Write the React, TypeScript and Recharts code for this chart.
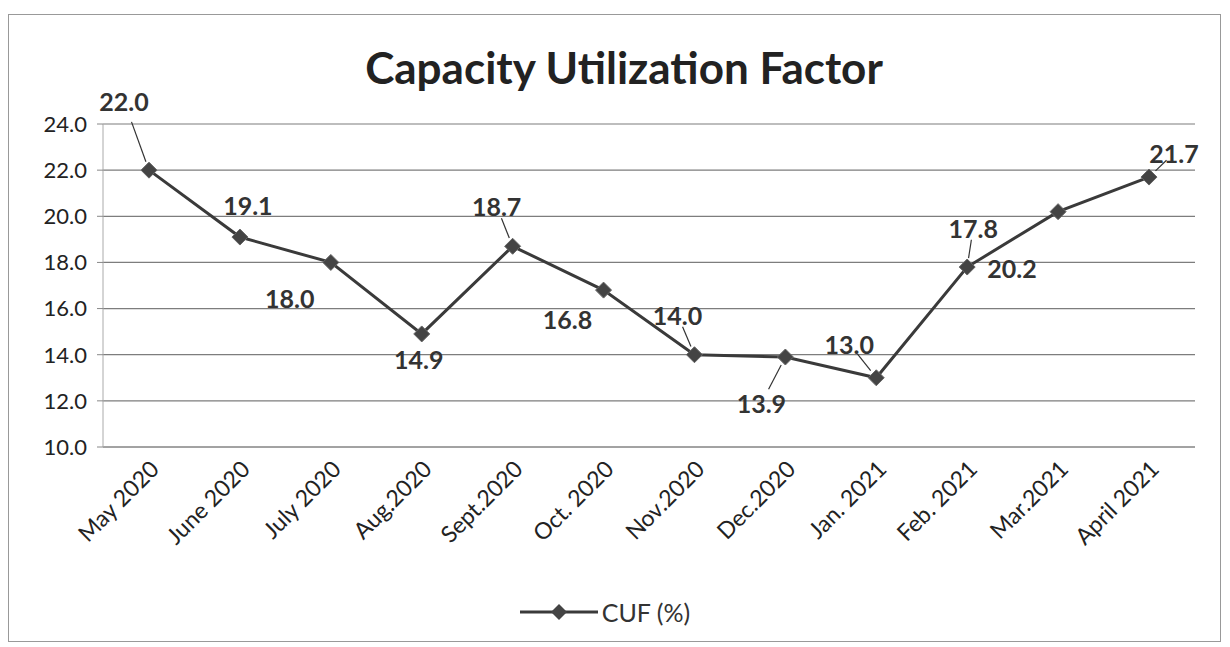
import React from "react";
import { LineChart, Line, XAxis, YAxis, CartesianGrid, Legend } from "recharts";

const months = [
  "May 2020", "June 2020", "July 2020", "Aug.2020", "Sept.2020", "Oct. 2020",
  "Nov.2020", "Dec.2020", "Jan. 2021", "Feb. 2021", "Mar.2021", "April 2021",
];
const cuf = [22.0, 19.1, 18.0, 14.9, 18.7, 16.8, 14.0, 13.9, 13.0, 17.8, 20.2, 21.7];
const yTicks = [10, 12, 14, 16, 18, 20, 22, 24];

// where each data label sits relative to its point (Excel had them dragged around)
const labelPos = [
  { dx: -25, dy: -69, leader: true },
  { dx: 8, dy: -32, leader: false },
  { dx: -41, dy: 36, leader: false },
  { dx: -3, dy: 25, leader: false },
  { dx: -16, dy: -40, leader: true },
  { dx: -36, dy: 29, leader: false },
  { dx: -17, dy: -40, leader: true },
  { dx: -24, dy: 46, leader: true },
  { dx: -27, dy: -34, leader: true },
  { dx: 6, dy: -39, leader: true },
  { dx: -46, dy: 56, leader: false },
  { dx: 25, dy: -24, leader: true },
];

const data = months.map((m, i) => ({ month: m, cuf: cuf[i] }));

const FONT = "Lato, 'Open Sans', sans-serif";
const LINE = "#3a3a3a";

const Diamond = (props: any) => {
  const { cx, cy, index } = props;
  if (cx == null || cy == null) return null;
  const s = 8;
  return (
    <path
      key={index}
      d={`M${cx},${cy - s} L${cx + s},${cy} L${cx},${cy + s} L${cx - s},${cy} Z`}
      fill="#444"
      stroke="#666"
      strokeWidth={1}
    />
  );
};

const DataLabel = (props: any) => {
  const { x, y, index, value } = props;
  const p = labelPos[index];
  const tx = x + p.dx;
  const ty = y + p.dy;
  const len = Math.hypot(p.dx, p.dy);
  return (
    <g key={index}>
      {p.leader && (
        <line
          x1={x + p.dx * 0.7}
          y1={y + p.dy * 0.7}
          x2={x + (p.dx / len) * 9}
          y2={y + (p.dy / len) * 9}
          stroke="#333"
          strokeWidth={1.2}
        />
      )}
      <text
        x={tx}
        y={ty}
        textAnchor="middle"
        dominantBaseline="central"
        fontFamily={FONT}
        fontWeight={700}
        fontSize={25}
        fill="#333"
      >
        {Number(value).toFixed(1)}
      </text>
    </g>
  );
};

const LegendContent = () => (
  <div
    style={{
      height: 50,
      display: "flex",
      justifyContent: "center",
      alignItems: "center",
      paddingRight: 38,
      fontFamily: FONT,
      fontSize: 25,
      color: "#333",
    }}
  >
    <svg width={78} height={20} style={{ marginRight: 4 }}>
      <line x1={0} y1={10} x2={78} y2={10} stroke={LINE} strokeWidth={3} />
      <path d="M39,2 L47,10 L39,18 L31,10 Z" fill="#444" />
    </svg>
    <span>CUF (%)</span>
  </div>
);

export default function App() {
  return (
    <div style={{ position: "absolute", left: 0, top: 0, width: 1230, height: 647, background: "#fff" }}>
      <div
        style={{
          position: "absolute",
          left: 8,
          top: 14,
          width: 1213,
          height: 628,
          border: "1px solid #999",
          boxSizing: "border-box",
        }}
      />
      <div
        style={{
          position: "absolute",
          left: 0,
          top: 40,
          width: 1248,
          textAlign: "center",
          fontFamily: FONT,
          fontWeight: 700,
          fontSize: 44,
          lineHeight: "54px",
          color: "#222",
        }}
      >
        Capacity Utilization Factor
      </div>
      <LineChart
        width={1230}
        height={647}
        data={data}
        margin={{ top: 124, right: 35, left: 53, bottom: 10 }}
        style={{ position: "absolute", left: 0, top: 0 }}
      >
        <CartesianGrid vertical={false} stroke="#7d7d7d" strokeWidth={1.2} />
        <XAxis
          dataKey="month"
          height={140}
          interval={0}
          angle={-45}
          textAnchor="end"
          padding={{ left: 46, right: 46 }}
          tickLine={false}
          axisLine={{ stroke: "#888" }}
          tick={{ fontFamily: FONT, fontSize: 23, fill: "#222", dy: 4 }}
        />
        <YAxis
          width={50}
          domain={[10, 24]}
          ticks={yTicks}
          interval={0}
          tickFormatter={(v: number) => v.toFixed(1)}
          axisLine={{ stroke: "#aaa" }}
          tickLine={{ stroke: "#888" }}
          tickMargin={10}
          tick={{ fontFamily: FONT, fontSize: 22, fill: "#222" }}
        />
        <Legend verticalAlign="bottom" content={<LegendContent />} />
        <Line
          type="linear"
          dataKey="cuf"
          stroke={LINE}
          strokeWidth={3}
          dot={<Diamond />}
          activeDot={false}
          label={<DataLabel />}
          isAnimationActive={false}
        />
      </LineChart>
    </div>
  );
}
